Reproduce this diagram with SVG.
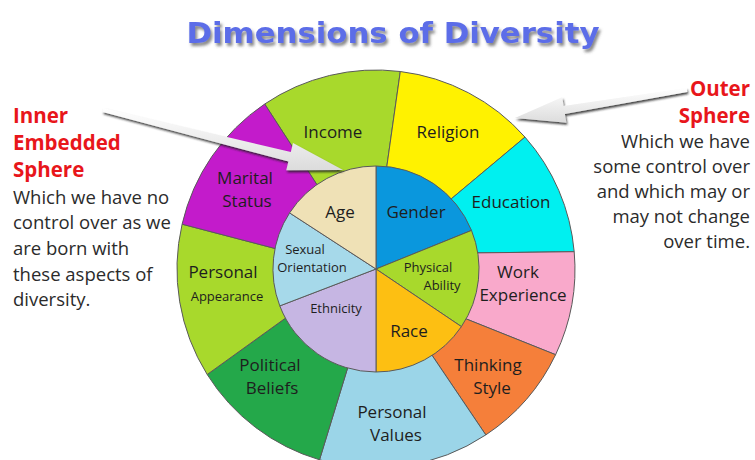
<svg xmlns="http://www.w3.org/2000/svg" width="755" height="460" viewBox="0 0 755 460">
<defs>
<filter id="tshadow" x="-5%" y="-20%" width="110%" height="150%"><feDropShadow dx="2" dy="3" stdDeviation="1.5" flood-color="#555" flood-opacity="0.7"/></filter>
<filter id="ashadow" x="-10%" y="-50%" width="120%" height="200%"><feDropShadow dx="1" dy="2" stdDeviation="1.3" flood-color="#222" flood-opacity="0.85"/></filter>
<linearGradient id="agrad" x1="0" y1="0" x2="0" y2="1"><stop offset="0" stop-color="#ffffff"/><stop offset="1" stop-color="#dcdcdc"/></linearGradient>
<style>
.seg{stroke:#5a5a5a;stroke-width:1;stroke-linejoin:round}
.lbl{font-family:"Open Sans","Liberation Sans",sans-serif;font-size:17px;fill:#1e1e1e;text-anchor:middle}
.sm{font-size:13px}
.head{font-family:"Open Sans","Liberation Sans",sans-serif;font-weight:bold;font-size:20.5px;fill:#e8161b}
.body{font-family:"Open Sans","Liberation Sans",sans-serif;font-size:18.5px;fill:#2b2b2b}
.arrow{fill:url(#agrad);filter:url(#ashadow)}
</style>
</defs>
<rect width="755" height="460" fill="#ffffff"/>

<text x="393" y="43" text-anchor="middle" font-family="'DejaVu Sans',Verdana,sans-serif" font-weight="bold" font-size="28.5" textLength="413" lengthAdjust="spacingAndGlyphs" fill="#5b6de8" filter="url(#tshadow)">Dimensions of Diversity</text>

<g id="outer-sphere">
<g id="income"><path class="seg" fill="#a8d92c" d="M376,269 L316.9,184.6 L264.7,104.0 A199,199 0 0 1 400.3,71.5 L386.8,166.6 Z"/><text class="lbl" x="333" y="138">Income</text></g>
<g id="religion"><path class="seg" fill="#fff200" d="M376,269 L386.8,166.6 L400.3,71.5 A199,199 0 0 1 525.0,137.1 L451.3,198.8 Z"/><text class="lbl" x="448" y="138">Religion</text></g>
<g id="education"><path class="seg" fill="#00f0f0" d="M376,269 L451.3,198.8 L525.0,137.1 A199,199 0 0 1 574.2,251.7 L477.7,252.9 Z"/><text class="lbl" x="511" y="208">Education</text></g>
<g id="work-experience"><path class="seg" fill="#f9a9cb" d="M376,269 L477.7,252.9 L574.2,251.7 A199,199 0 0 1 555.6,354.7 L466.1,318.9 Z"/><text class="lbl" x="518" y="278">Work</text><text class="lbl" x="523" y="301">Experience</text></g>
<g id="thinking-style"><path class="seg" fill="#f57f3a" d="M376,269 L466.1,318.9 L555.6,354.7 A199,199 0 0 1 485.8,434.9 L432.1,355.4 Z"/><text class="lbl" x="488" y="371">Thinking</text><text class="lbl" x="492" y="394">Style</text></g>
<g id="personal-values"><path class="seg" fill="#9bd5e8" d="M376,269 L432.1,355.4 L485.8,434.9 A199,199 0 0 1 319.5,459.8 L347.6,368.0 Z"/><text class="lbl" x="392" y="418">Personal</text><text class="lbl" x="396" y="441">Values</text></g>
<g id="political-beliefs"><path class="seg" fill="#24a84a" d="M376,269 L347.6,368.0 L319.5,459.8 A199,199 0 0 1 207.2,374.5 L285.5,318.1 Z"/><text class="lbl" x="270" y="371">Political</text><text class="lbl" x="272" y="394">Beliefs</text></g>
<g id="personal-appearance"><path class="seg" fill="#a8d92c" d="M376,269 L285.5,318.1 L207.2,374.5 A199,199 0 0 1 182.1,224.2 L275.1,248.5 Z"/><text class="lbl" x="223" y="278">Personal</text><text class="lbl sm" x="227" y="301">Appearance</text></g>
<g id="marital-status"><path class="seg" fill="#c31bcb" d="M376,269 L275.1,248.5 L182.1,224.2 A199,199 0 0 1 264.7,104.0 L316.9,184.6 Z"/><text class="lbl" x="245" y="184" fill="#2a0f30">Marital</text><text class="lbl" x="247" y="207" fill="#2a0f30">Status</text></g>
</g>

<g id="inner-sphere">
<g id="gender"><path class="seg" fill="#0a97dd" d="M376,269 L376,166 A103,103 0 0 1 471.5,230.4 Z"/><text class="lbl" x="416" y="218">Gender</text></g>
<g id="physical-ability"><path class="seg" fill="#a8d92c" d="M376,269 L471.5,230.4 A103,103 0 0 1 461.4,326.6 Z"/><text class="lbl sm" x="428" y="272">Physical</text><text class="lbl sm" x="442" y="290">Ability</text></g>
<g id="race"><path class="seg" fill="#fdbf12" d="M376,269 L461.4,326.6 A103,103 0 0 1 376,372 Z"/><text class="lbl" x="409" y="337">Race</text></g>
<g id="ethnicity"><path class="seg" fill="#c6b6e3" d="M376,269 L376,372 A103,103 0 0 1 279.8,305.9 Z"/><text class="lbl sm" x="336" y="313" fill="#2e2a44">Ethnicity</text></g>
<g id="sexual-orientation"><path class="seg" fill="#a6d9ea" d="M376,269 L279.8,305.9 A103,103 0 0 1 289.6,212.9 Z"/><text class="lbl sm" x="305" y="254">Sexual</text><text class="lbl sm" x="312" y="272">Orientation</text></g>
<g id="age"><path class="seg" fill="#efe1b6" d="M376,269 L289.6,212.9 A103,103 0 0 1 376,166 Z"/><text class="lbl" x="340" y="218">Age</text></g>
</g>

<g id="inner-label">
<text class="head" x="13" y="123">Inner</text>
<text class="head" x="13" y="150">Embedded</text>
<text class="head" x="13" y="177">Sphere</text>
<text class="body" x="13" y="204">Which we have no</text>
<text class="body" x="13" y="229">control over as we</text>
<text class="body" x="13" y="255">are born with</text>
<text class="body" x="13" y="281">these aspects of</text>
<text class="body" x="13" y="306">diversity.</text>
</g>

<g id="outer-label">
<text class="head" x="750" y="96" text-anchor="end">Outer</text>
<text class="head" x="750" y="123" text-anchor="end">Sphere</text>
<text class="body" x="750" y="148" text-anchor="end">Which we have</text>
<text class="body" x="750" y="173" text-anchor="end">some control over</text>
<text class="body" x="750" y="198" text-anchor="end">and which may or</text>
<text class="body" x="750" y="223" text-anchor="end">may not change</text>
<text class="body" x="750" y="248" text-anchor="end">over time.</text>
</g>

<g id="connectors">
<polygon class="arrow" points="103.5,108.1 290.8,151.9 293,143.1 343,170 286.2,170.3 288.4,161.6 102.5,111.9"/>
<polygon class="arrow" points="686.7,88 563.7,106.1 562.2,97.2 515,118 566.4,122.8 564.9,113.9 687.3,92"/>
</g>
</svg>
